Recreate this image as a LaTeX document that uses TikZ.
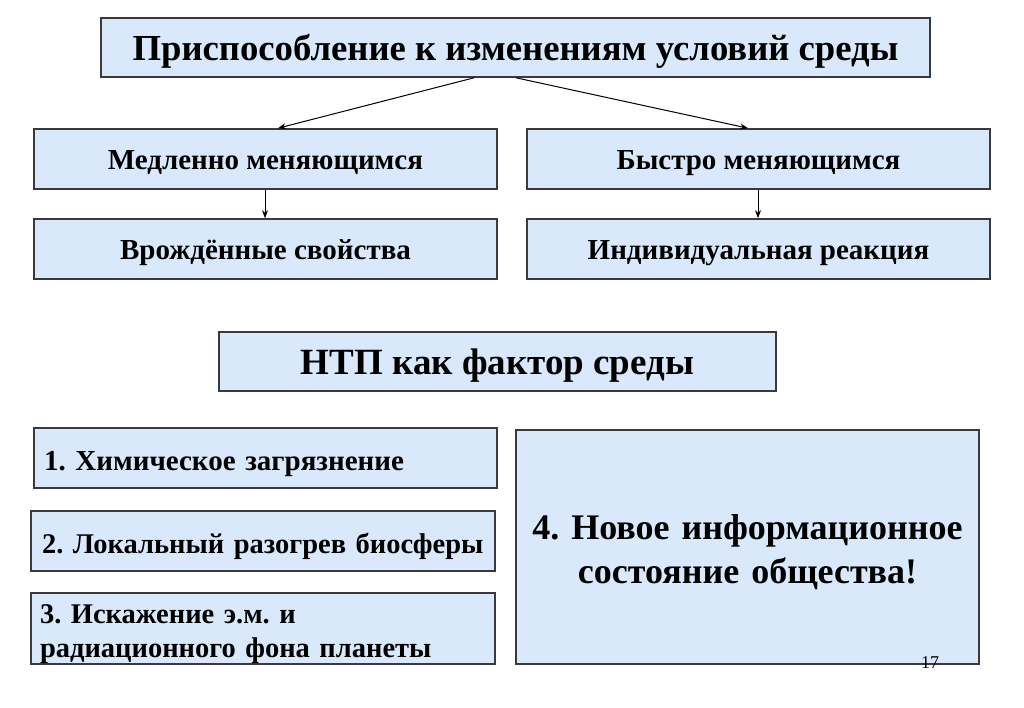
\documentclass[tikz,border=0pt]{standalone}
\usepackage{fontspec}
\setmainfont{Liberation Serif}
\usetikzlibrary{calc,arrows.meta}
\definecolor{boxfill}{HTML}{D9E9FB}
\definecolor{boxline}{HTML}{3A3A3A}
\frenchspacing
\tikzset{
  box/.style={draw=boxline, line width=1.6pt, fill=boxfill, inner sep=0pt, font=\bfseries, text depth=0pt},
  arr/.style={draw=black, line width=1pt, -{Stealth[length=8pt,width=6pt]}}
}
\begin{document}
\begin{tikzpicture}[x=1pt,y=-1pt]
\useasboundingbox[fill=white] (0,0) rectangle (1024,708);
\node[box, minimum width=829pt, minimum height=59pt, text height=27pt, font=\bfseries\fontsize{36.7}{42}\selectfont] (top) at (515.5,47.5) {Приспособление к изменениям условий среды};
\node[box, minimum width=463pt, minimum height=60pt, text height=22pt, font=\bfseries\fontsize{29}{34}\selectfont] (l2) at (265.5,159) {Медленно меняющимся};
\node[box, minimum width=463pt, minimum height=60pt, text height=22pt, font=\bfseries\fontsize{29}{34}\selectfont] (r2) at (758.5,159) {Быстро меняющимся};
\node[box, minimum width=463pt, minimum height=60pt, text height=21pt, font=\bfseries\fontsize{29}{34}\selectfont] (l3) at (265.5,249) {Врождённые свойства};
\node[box, minimum width=463pt, minimum height=60pt, text height=21pt, font=\bfseries\fontsize{29}{34}\selectfont] (r3) at (758.5,249) {Индивидуальная реакция};
\node[box, minimum width=557pt, minimum height=59pt, text height=25pt, font=\bfseries\fontsize{37}{42}\selectfont] (ntp) at (497.5,361.5) {НТП как фактор среды};
\node[box, minimum width=463pt, minimum height=60pt, text width=443pt, align=left, text height=24pt, font=\bfseries\fontsize{29}{34}\selectfont] (b1) at (265.5,458) {1. Химическое загрязнение};
\node[box, minimum width=464pt, minimum height=60pt, text width=442pt, align=left, text height=24pt, font=\bfseries\fontsize{28.5}{34}\selectfont] (b2) at (263,541) {2. Локальный разогрев биосферы};
\node[box, minimum width=464pt, minimum height=71pt, text width=446pt, align=left, text height=23pt, text depth=34pt, font=\bfseries\fontsize{28.5}{34}\selectfont] (b3) at (263,628.5) {3. Искажение э.м. и\\радиационного фона планеты};
\node[box, minimum width=463pt, minimum height=234pt, text width=450pt, align=center, text height=28pt, text depth=44pt, font=\bfseries\fontsize{36}{44}\selectfont] (b4) at (747.5,547) {4. Новое информационное\\состояние общества!};
\node[font=\fontsize{18}{20}\selectfont, text=black, inner sep=0pt] (pg) at (930,663) {17};
\draw[arr] ($(top.south)+(-41.5,0)$) -- ($(l2.north)+(12.5,0)$);
\draw[arr] ($(top.south)+(0.5,0)$) -- ($(r2.north)+(-10.5,0)$);
\draw[arr] ($(l2.south)+(-0.5,0)$) -- ($(l3.north)+(-0.5,0)$);
\draw[arr] ($(r2.south)+(-0.5,0)$) -- ($(r3.north)+(-0.5,0)$);
\end{tikzpicture}
\end{document}
